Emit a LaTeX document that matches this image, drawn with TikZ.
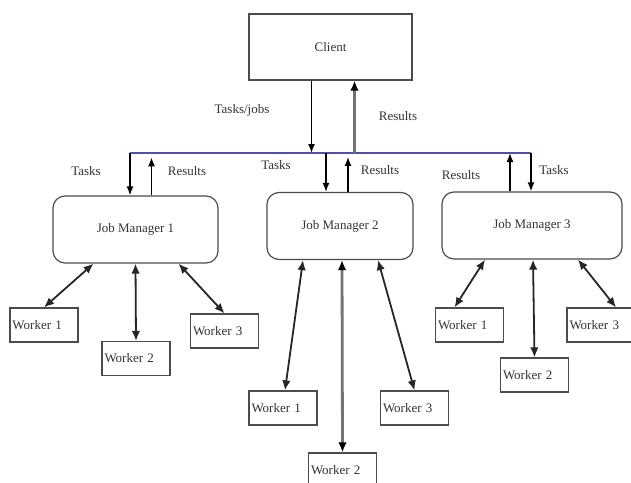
\documentclass[tikz,border=0pt]{standalone}
\usepackage{fontspec}
\setmainfont{Liberation Serif}
\newfontfamily\diagfont{Liberation Serif}
\usetikzlibrary{arrows.meta,calc}
\definecolor{busblue}{RGB}{80,80,170}
\tikzset{
  box/.style={draw=black!70, line width=1.2pt, inner sep=0pt, text=black!80},
  client/.style={box, minimum width=163pt, minimum height=66pt},
  manager/.style={box, rounded corners=12pt, minimum height=67pt},
  worker/.style={box, minimum height=34pt, text width=63pt, inner xsep=2.5pt, align=left},
  lbl/.style={text=black!80, inner sep=0pt},
  link/.style={black!85, line width=1.8pt, {Latex[length=10pt,width=8.5pt]}-{Latex[length=10pt,width=8.5pt]}},
  flow/.style={black, line width=1.5pt, -{Latex[length=9pt,width=7pt]}},
  heavy/.style={black!55, line width=3pt, -{Latex[length=10pt,width=8.5pt,color=black]}}
}
\begin{document}
\begin{tikzpicture}[x=1pt, y=-1pt, font=\diagfont\fontsize{13}{15}\selectfont]
        \clip (0,0) rectangle (631,482);
        \fill[white] (0,0) rectangle (631,482);
        % client and job managers
        \node[client] (client) at (330.5,47) {Client};
        \node[manager, minimum width=165pt] (jm1) at (135.5,229.5) {Job Manager 1};
        \node[manager, minimum width=146pt] (jm2) at (340,226) {Job Manager 2};
        \node[manager, minimum width=180pt] (jm3) at (532,225.5) {Job Manager 3};
        % workers
        \node[worker] (w11) at (44,325) {Worker 1};
        \node[worker] (w12) at (136,358.5) {Worker 2};
        \node[worker] (w13) at (224.5,331) {Worker 3};
        \node[worker] (w21) at (283,408) {Worker 1};
        \node[worker] (w22) at (342.5,470) {Worker 2};
        \node[worker] (w23) at (414.5,408) {Worker 3};
        \node[worker] (w31) at (469.5,325) {Worker 1};
        \node[worker] (w32) at (534.5,375) {Worker 2};
        \node[worker] (w33) at (601,325) {Worker 3};
        % bus line
        \coordinate (busL) at (130,153);
        \coordinate (busR) at (531,153);
        \draw[busblue, line width=1.1pt] (busL) -- (busR);
        % client <-> bus
        \draw[flow] ($(client.south)+(-19,0)$) coordinate (cj) -- (cj |- busL);
        \draw[heavy] ($(client.south)+(24,0)$) coordinate (cr) (cr |- busL) -- (cr);
        % bus <-> managers
        \draw[flow] (busL) -- (busL |- jm1.north);
        \draw[flow] ($(jm1.north)+(16,0)$) -- ++(0,-38);
        \draw[flow] ($(jm2.north)+(-14,0)$) coordinate (t2) (t2 |- busL) -- (t2);
        \draw[flow] ($(jm2.north)+(8,0)$) -- ++(0,-35);
        \draw[flow] ($(jm3.north)+(-22,0)$) coordinate (r3) -- (r3 |- busL);
        \draw[flow] (busR) -- (busR |- jm3.north);
        % managers <-> workers
        \draw[link] ($(jm1.south)+(-42,0)$) -- (w11.north);
        \draw[link] (jm1.south) -- (w12.north);
        \draw[link] ($(jm1.south)+(43,0)$) -- (w13.north);
        \draw[link] ($(jm2.south)+(-37,0)$) -- ($(w21.north)+(2,0)$);
        \draw[link, black!55, line width=2.8pt, {Latex[length=10pt,width=8.5pt,color=black]}-{Latex[length=10pt,width=8.5pt,color=black]}] ($(jm2.south)+(2,0)$) -- (w22.north);
        \draw[link] ($(jm2.south)+(38,0)$) -- (w23.north);
        \draw[link] ($(jm3.south)+(-47,0)$) -- ($(w31.north)+(-15,0)$);
        \draw[link] ($(jm3.south)+(1,0)$) -- (w32.north);
        \draw[link] ($(jm3.south)+(46,0)$) -- ($(w33.north)+(15,0)$);
        % labels
        \node[lbl] (ltj) at (242,110) {Tasks/jobs};
        \node[lbl] (lcr) at (398,116) {Results};
        \node[lbl] (lt1) at (86,171) {Tasks};
        \node[lbl] (lr1) at (187,171) {Results};
        \node[lbl] (lt2) at (276,165) {Tasks};
        \node[lbl] (lr2) at (380,170) {Results};
        \node[lbl] (lr3) at (461,175) {Results};
        \node[lbl] (lt3) at (554,170) {Tasks};
      \end{tikzpicture}
\end{document}
